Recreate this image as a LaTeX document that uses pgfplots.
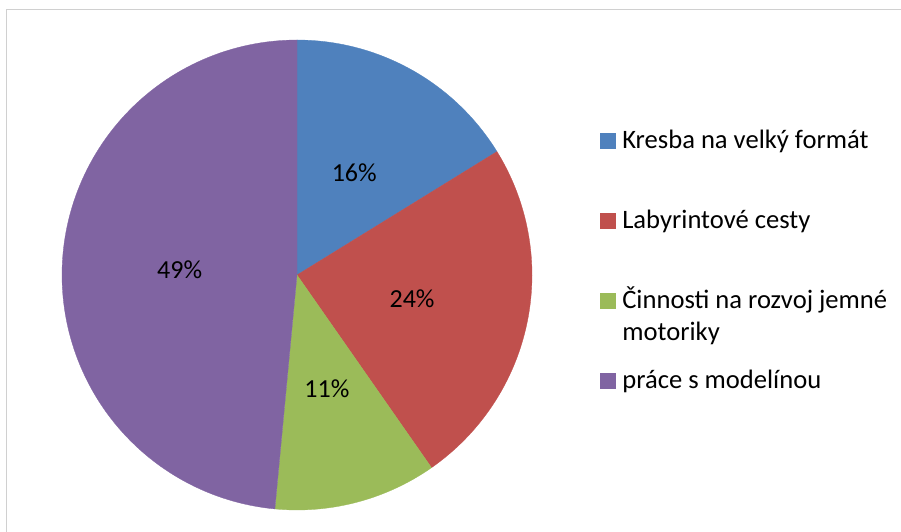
\documentclass[border=0pt]{standalone}
\usepackage{pgfplots}
\pgfplotsset{compat=1.18}
\usepackage{pgfplotstable}
\usepackage{fontspec}
\setmainfont{Carlito}

\definecolor{cBlue}{HTML}{4F81BD}
\definecolor{cRed}{HTML}{C0504D}
\definecolor{cGreen}{HTML}{9BBB59}
\definecolor{cPurple}{HTML}{8064A2}
\definecolor{frame}{HTML}{D0D0D0}

% shares in percent (labels show them rounded)
\pgfplotstableread{
value
16.2
24.1
11.2
48.5
}\piedata

\begin{document}
\begin{tikzpicture}
\pgfplotstablegetelem{0}{value}\of\piedata \let\va\pgfplotsretval
\pgfplotstablegetelem{1}{value}\of\piedata \let\vb\pgfplotsretval
\pgfplotstablegetelem{2}{value}\of\piedata \let\vc\pgfplotsretval
\pgfplotstablegetelem{3}{value}\of\piedata \let\vd\pgfplotsretval
% slice boundaries, clockwise from 12 o'clock
\pgfmathsetmacro{\aA}{90}
\pgfmathsetmacro{\aB}{\aA-3.6*\va}
\pgfmathsetmacro{\aC}{\aB-3.6*\vb}
\pgfmathsetmacro{\aD}{\aC-3.6*\vc}
\pgfmathsetmacro{\aE}{\aD-3.6*\vd}
\def\cx{297}\def\cy{257}\def\R{235}
\def\pct#1{\pgfmathprintnumber[fixed,precision=0,assume math mode=true]{#1}\%}
\begin{axis}[
  width=901pt, height=532pt, scale only axis,
  xmin=0, xmax=901, ymin=0, ymax=532,
  hide axis,
  legend style={at={(axis cs:600,407)}, anchor=north west, draw=none, fill=none,
    inner sep=0pt, outer sep=0pt, row sep=48pt,
    font=\fontsize{26.6}{32}\selectfont,
    nodes={inner sep=0pt, text height=24pt, text depth=8pt}},
  legend cell align=left,
  legend image code/.code={\fill[#1] (0pt,-7.5pt) rectangle (15pt,7.5pt);},
  /tikz/every odd column/.style={column sep=7pt},
]
\draw[frame, line width=1pt] (6.5,-20) -- (6.5,522) -- (920,522);

\addplot[cBlue, fill=cBlue, line width=0.3pt, domain=\aB:\aA, samples=80]
  ({\cx+\R*cos(x)}, {\cy+\R*sin(x)}) -- (\cx,\cy) -- cycle;
\addlegendentry{Kresba na velký formát}
\addplot[cRed, fill=cRed, line width=0.3pt, domain=\aC:\aB, samples=80]
  ({\cx+\R*cos(x)}, {\cy+\R*sin(x)}) -- (\cx,\cy) -- cycle;
\addlegendentry{Labyrintové cesty}
\addplot[cGreen, fill=cGreen, line width=0.3pt, domain=\aD:\aC, samples=80]
  ({\cx+\R*cos(x)}, {\cy+\R*sin(x)}) -- (\cx,\cy) -- cycle;
\addlegendentry{\parbox[t]{300pt}{Činnosti na rozvoj jemné\\motoriky}}
\addplot[cPurple, fill=cPurple, line width=0.3pt, domain=\aE:\aD, samples=120]
  ({\cx+\R*cos(x)}, {\cy+\R*sin(x)}) -- (\cx,\cy) -- cycle;
\addlegendentry{práce s modelínou}

\pgfmathsetmacro{\mA}{(\aA+\aB)/2}
\pgfmathsetmacro{\mB}{(\aB+\aC)/2}
\pgfmathsetmacro{\mC}{(\aC+\aD)/2}
\pgfmathsetmacro{\mD}{(\aD+\aE)/2}
\begin{scope}[font=\fontsize{26}{32}\selectfont]
\node at (axis cs:{\cx+0.5*\R*cos(\mA)},{\cy+0.5*\R*sin(\mA)}) {\pct{\va}};
\node at (axis cs:{\cx+0.5*\R*cos(\mB)},{\cy+0.5*\R*sin(\mB)}) {\pct{\vb}};
\node at (axis cs:{\cx+0.5*\R*cos(\mC)},{\cy+0.5*\R*sin(\mC)}) {\pct{\vc}};
\node at (axis cs:{\cx+0.5*\R*cos(\mD)},{\cy+0.5*\R*sin(\mD)}) {\pct{\vd}};
\end{scope}
\end{axis}
\pgfresetboundingbox
\path (current axis.south west) rectangle (current axis.north east);
\end{tikzpicture}
\end{document}
